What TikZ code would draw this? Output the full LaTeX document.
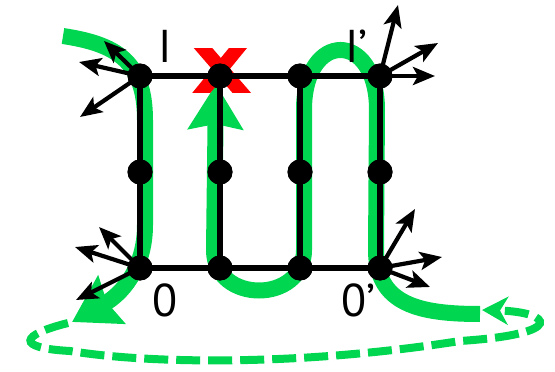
\documentclass[tikz,border=0pt]{standalone}
\usepackage{fontspec}
\newfontfamily\lblfont{PT Sans}
\usetikzlibrary{arrows.meta}
\definecolor{grn}{RGB}{0,214,80}
\begin{document}
\begin{tikzpicture}[x=1pt,y=-1pt,
  dot/.style={circle,fill=black,minimum size=25pt,inner sep=0pt},
  gridline/.style={line width=6pt,black},
  vec/.style={line width=4.2pt,black,-{Stealth[length=22pt,width=18pt,inset=5pt]}},
  greenpath/.style={line width=16pt,grn},
  bigtip/.tip={Stealth[length=45pt,width=54pt,inset=5pt]},
  dashpath/.style={line width=8pt,grn,dash pattern=on 24pt off 8pt,-{Stealth[length=26pt,width=28pt,inset=8pt]}},
  redx/.style={red,line width=14pt},
  lbl/.style={font=\lblfont\fontsize{46}{46}\selectfont,inner sep=0pt}]

\useasboundingbox (0,0) rectangle (555,372);

% green paths
\draw[greenpath,-{bigtip}] (63,36) .. controls (115,44) and (145,60) .. (145,120)
  -- (145,225) .. controls (145,270) and (120,295) .. (72,322);
\draw[greenpath,{bigtip}-] (216,84) -- (214,250)
  .. controls (214,304) and (304,304) .. (304,250)
  -- (304,110) .. controls (304,30) and (377,30) .. (377,110)
  -- (376,250) .. controls (376,305) and (420,314) .. (480,314);

% dashed return path
\draw[dashpath] (68,323) .. controls (20,335) and (15,348) .. (70,351)
  .. controls (150,364) and (300,366) .. (460,341)
  .. controls (568,334) and (552,312) .. (482,310);

% red X
\begin{scope}
  \clip (185,48) rectangle (255,92);
  \draw[redx] (196.1,40) -- (247.9,100);
  \draw[redx] (244.5,40) -- (195.5,100);
\end{scope}

% nodes
\node[dot] (a1) at (140,76) {};
\node[dot] (a2) at (220,76) {};
\node[dot] (a3) at (300,76) {};
\node[dot] (a4) at (380,76) {};
\node[dot] (b1) at (140,172) {};
\node[dot] (b2) at (220,172) {};
\node[dot] (b3) at (300,172) {};
\node[dot] (b4) at (380,172) {};
\node[dot] (c1) at (140,268) {};
\node[dot] (c2) at (220,268) {};
\node[dot] (c3) at (300,268) {};
\node[dot] (c4) at (380,268) {};

% grid lines
\draw[gridline] (a1.center) -- (a4.center);
\draw[gridline] (c1.center) -- (c4.center);
\draw[gridline] (a1.center) -- (c1.center);
\draw[gridline] (a2.center) -- (c2.center);
\draw[gridline] (a3.center) -- (c3.center);
\draw[gridline] (a4.center) -- (c4.center);

% redraw dots on top
\foreach \n in {a1,a2,a3,a4,b1,b2,b3,b4,c1,c2,c3,c4}
  \fill (\n.center) circle (12.5pt);

% vector end points
\coordinate (ta1) at (104,41);
\coordinate (ta2) at (79,62);
\coordinate (ta3) at (80,117);
\coordinate (tc1) at (99,227);
\coordinate (tc2) at (75,247);
\coordinate (tc3) at (76,300);
\coordinate (td1) at (398,5);
\coordinate (td2) at (438,43);
\coordinate (td3) at (435,76);
\coordinate (te1) at (415,209);
\coordinate (te2) at (442,257);
\coordinate (te3) at (430,287);

\draw[vec] (a1.center) -- (ta1);
\draw[vec] (a1.center) -- (ta2);
\draw[vec] (a1.center) -- (ta3);
\draw[vec] (c1.center) -- (tc1);
\draw[vec] (c1.center) -- (tc2);
\draw[vec] (c1.center) -- (tc3);
\draw[vec] (a4.center) -- (td1);
\draw[vec] (a4.center) -- (td2);
\draw[vec] (a4.center) -- (td3);
\draw[vec] (c4.center) -- (te1);
\draw[vec] (c4.center) -- (te2);
\draw[vec] (c4.center) -- (te3);

% labels
\node[lbl,anchor=base] (lI) at (165,63) {I};
\node[lbl,anchor=base west] (lIp) at (345,63) {I’};
\node[lbl,anchor=base] (l0) at (165,316) {0};
\node[lbl,anchor=base west] (l0p) at (341,316) {0’};
\end{tikzpicture}
\end{document}
